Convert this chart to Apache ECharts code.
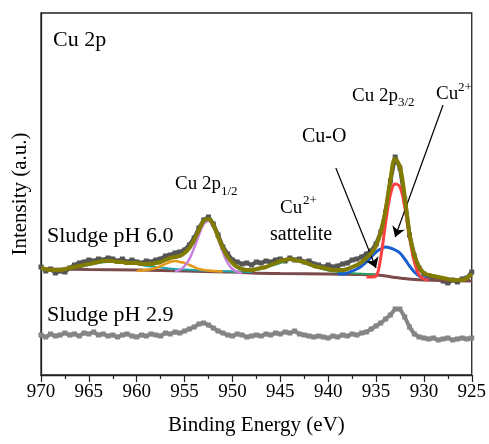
<!DOCTYPE html>
<html>
<head>
<meta charset="utf-8">
<script src="https://cdn.jsdelivr.net/npm/echarts@6/dist/echarts.min.js"></script>
<style>
  html, body { margin: 0; padding: 0; background: #fff; }
  #chart { width: 489px; height: 444px; }
</style>
</head>
<body>
<div id="chart"></div>
<script>
// binding energy grid of the measured spectra (eV)
const energy = [970, 969.5, 969, 968.5, 968, 967.5, 967, 966.5, 966, 965.5,
  965, 964.5, 964, 963.5, 963, 962.5, 962, 961.5, 961, 960.5,
  960, 959.5, 959, 958.5, 958, 957.5, 957, 956.5, 956, 955.5,
  955, 954.5, 954, 953.5, 953, 952.5, 952, 951.5, 951, 950.5,
  950, 949.5, 949, 948.5, 948, 947.5, 947, 946.5, 946, 945.5,
  945, 944.5, 944, 943.5, 943, 942.5, 942, 941.5, 941, 940.5,
  940, 939.5, 939, 938.5, 938, 937.5, 937, 936.5, 936, 935.5,
  935, 934.5, 934, 933.5, 933, 932.5, 932, 931.5, 931, 930.5,
  930, 929.5, 929, 928.5, 928, 927.5, 927, 926.5, 926, 925.5, 925];

// Sludge pH 6.0 raw counts (a.u.)
const sludge60 = [108, 104, 106, 102, 104, 103, 107, 110, 112, 113,
  115, 114, 116, 115, 117, 116, 114, 116, 113, 115,
  113, 112, 114, 113, 115, 116, 119, 120, 122, 123,
  125, 130, 137, 147, 155, 158, 151, 140, 128, 121,
  115, 113, 111, 112, 110, 113, 112, 114, 113, 115,
  116, 114, 117, 115, 116, 113, 114, 111, 110, 108,
  110, 108, 109, 111, 112, 115, 116, 118, 121, 124,
  131, 143, 163, 194, 218, 207, 176, 140, 119, 107,
  101, 99, 97, 96, 94, 92, 95, 93, 96, 97, 103];

// Sludge pH 2.9 raw counts (a.u.)
const sludge29 = [40, 38, 41, 39, 40, 42, 40, 41, 39, 42,
  41, 43, 40, 41, 39, 40, 38, 40, 41, 39,
  38, 40, 39, 41, 40, 39, 42, 41, 43, 42,
  44, 46, 48, 51, 52, 50, 47, 44, 42, 40,
  39, 41, 40, 38, 39, 40, 39, 41, 40, 42,
  41, 43, 42, 44, 41, 40, 39, 38, 39, 38,
  37, 39, 38, 40, 39, 41, 40, 42, 43, 46,
  49, 52, 56, 60, 66, 66, 58, 48, 41, 38,
  37, 36, 37, 35, 36, 37, 35, 36, 37, 36, 37];

// cumulative fit envelope (pH 6.0)
const envelope = [107, 106, 105, 105, 105, 106, 107, 108, 109, 110,
  111, 112, 113, 114, 114, 114, 113, 113, 112, 112,
  112, 111, 111, 111, 112, 113, 115, 117, 118, 119,
  122, 127, 135, 145, 154, 156, 150, 138, 127, 118,
  112, 108, 106, 105, 105, 106, 107, 108, 110, 112,
  114, 115, 116, 115, 114, 113, 111, 109, 108, 107,
  106, 105, 105, 105, 106, 108, 110, 113, 117, 122,
  129, 143, 165, 195, 216, 208, 178, 141, 120, 108,
  102, 100, 99, 98, 97, 96, 95, 95, 95, 97, 101];

// Shirley background
const bgE = [970, 965, 960, 955, 953, 950, 948, 945, 940, 937, 935, 934, 933, 932, 931, 930, 928, 925];
const bgY = [106, 105.5, 105, 104, 103.5, 103, 102, 101.5, 101, 100.5, 100, 99, 97.5, 96.5, 95.5, 95, 94.5, 94];

// Cu2+ 2p3/2 component
const redE = [936, 935.5, 935, 934.5, 934, 933.5, 933, 932.5, 932, 931.5, 931, 930.5, 930, 929.5];
const redY = [98, 98, 99, 118, 152, 180, 191, 188, 168, 138, 113, 100, 96, 95];

// Cu-O component
const blueE = [939, 938.5, 938, 937.5, 937, 936.5, 936, 935.5, 935, 934.5, 934, 933.5, 933, 932.5, 932, 931.5, 931, 930.5, 930, 929.5];
const blueY = [101, 101, 102, 104, 106, 109, 113, 118, 123, 126, 128, 127, 125, 122, 116, 109, 103, 99, 97, 96];

// Cu 2p1/2 component
const violetE = [956, 955.5, 955, 954.5, 954, 953.5, 953, 952.5, 952, 951.5, 951, 950.5, 950, 949.5, 949];
const violetY = [104, 105, 109, 116, 127, 140, 151, 154, 148, 136, 123, 112, 106, 103, 102];

// shoulder near 956 eV
const orangeE = [960, 959, 958, 957.5, 957, 956.5, 956, 955.5, 955, 954.5, 954, 953.5, 953, 952, 951];
const orangeY = [104, 105, 107, 109, 111, 113, 114, 113, 112, 110, 108, 106, 105, 104, 103.5];

// satellites
const tealE = [970, 968, 966, 965, 964, 963, 962, 961, 960, 959, 958, 957, 956, 955, 954, 952, 950, 948];
const tealY = [105.5, 106, 108, 110, 112, 113, 113, 112, 111, 109, 108, 107, 106, 105.5, 105, 104, 103.5, 103];
const greenE = [950, 949, 948, 947, 946, 945, 944.5, 944, 943.5, 943, 942, 941, 940, 939, 938, 937, 936, 935];
const greenY = [103, 103.5, 104.5, 106, 109, 112, 114, 115, 114.5, 113.5, 110, 107, 104.5, 103, 102, 101.5, 101, 100.5];

const FONT = "'Liberation Serif', 'Times New Roman', serif";

function pairs(xs, ys) {
  return xs.map((x, i) => [x, ys[i]]);
}

function fitLine(name, xs, ys, color, width, z) {
  return {
    name: name,
    type: "line",
    data: pairs(xs, ys),
    showSymbol: false,
    smooth: 0.4,
    z: z,
    lineStyle: { color: color, width: width },
  };
}

function rawLine(name, ys, color) {
  return {
    name: name,
    type: "line",
    data: pairs(energy, ys),
    symbol: "rect",
    symbolSize: 5,
    z: 1,
    itemStyle: { color: color },
    lineStyle: { color: color, width: 4 },
  };
}

function label(text, x, y, size) {
  return {
    type: "text",
    x: x,
    y: y,
    style: {
      text: text,
      fill: "#000",
      font: size + "px " + FONT,
      fontSize: size,
      fontFamily: FONT,
      align: "left",
      verticalAlign: "middle",
      textAlign: "left",
      textVerticalAlign: "middle",
    },
  };
}

const chart = echarts.init(document.getElementById("chart"));

const option = {
  animation: false,
  backgroundColor: "#fff",
  grid: {
    left: 41,
    right: 16,
    top: 13,
    bottom: 69,
    show: true,
    borderColor: "#222",
    borderWidth: 1.3,
  },
  xAxis: {
    type: "value",
    min: 925,
    max: 970,
    interval: 5,
    inverse: true,
    name: "Binding Energy (eV)",
    nameLocation: "middle",
    nameGap: 40,
    nameTextStyle: { fontSize: 21, fontFamily: FONT, color: "#000" },
    axisLine: { lineStyle: { color: "#222", width: 1.3 } },
    axisTick: { inside: false, length: 7, lineStyle: { color: "#222", width: 1.2 } },
    minorTick: { show: true, splitNumber: 2, length: 4, lineStyle: { color: "#222", width: 1.2 } },
    splitLine: { show: false },
    axisLabel: { fontSize: 19, fontFamily: FONT, color: "#000", margin: 8 },
  },
  yAxis: {
    type: "value",
    min: 0,
    max: 362,
    name: "Intensity (a.u.)",
    nameLocation: "middle",
    nameGap: 10,
    nameRotate: 90,
    nameTextStyle: { fontSize: 21, fontFamily: FONT, color: "#000" },
    axisLine: { show: true, lineStyle: { color: "#222", width: 1.3 } },
    axisTick: { show: false },
    axisLabel: { show: false },
    splitLine: { show: false },
  },
  series: [
    rawLine("Sludge pH 2.9", sludge29, "#858585"),
    rawLine("Sludge pH 6.0", sludge60, "#555555"),
    fitLine("Background", bgE, bgY, "#7b4a4a", 3, 2),
    fitLine("Satellite 1", tealE, tealY, "#19a5b0", 2, 3),
    fitLine("Satellite 2", greenE, greenY, "#2ca25f", 2, 3),
    fitLine("Shoulder", orangeE, orangeY, "#e69a1c", 2.5, 3),
    fitLine("Cu 2p1/2", violetE, violetY, "#c77fe0", 2.5, 3),
    fitLine("Cu-O", blueE, blueY, "#1a5fd0", 3, 4),
    fitLine("Cu2+", redE, redY, "#ff4040", 3, 4),
    fitLine("Envelope", energy, envelope, "#817c00", 4, 5),
    {
      name: "arrows",
      type: "line",
      data: [],
      z: 6,
      markLine: {
        silent: true,
        symbol: ["none", "arrow"],
        symbolSize: 10,
        label: { show: false },
        lineStyle: { color: "#000", width: 1.2, type: "solid" },
        data: [
          [{ coord: [939.2, 207] }, { coord: [935.0, 107] }],
          [{ coord: [928.0, 270] }, { coord: [933.0, 138] }],
        ],
      },
    },
  ],
  graphic: [
    label("Cu 2p", 53, 40, 22),
    label("Cu 2p", 175, 184, 19),
    label("1/2", 221, 192, 13),
    label("Cu 2p", 352, 96, 19),
    label("3/2", 398, 103, 13),
    label("Cu", 436, 94, 19),
    label("2+", 458, 88, 13),
    label("Cu-O", 302, 137, 20),
    label("Cu", 280, 208, 19),
    label("2+", 303, 201, 13),
    label("sattelite", 270, 235, 20),
    label("Sludge pH 6.0", 47, 236, 22),
    label("Sludge pH 2.9", 47, 315, 22),
  ],
};

chart.setOption(option);
</script>
</body>
</html>
